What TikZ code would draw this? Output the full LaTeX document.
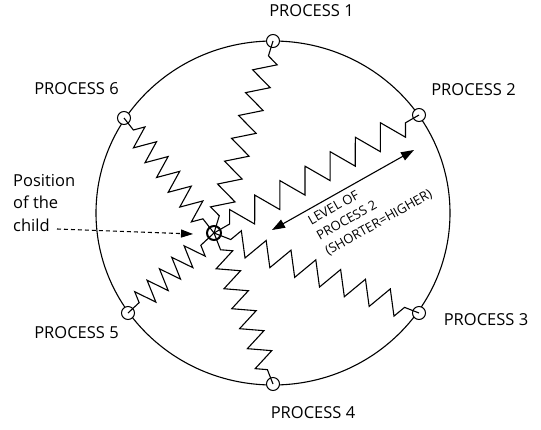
\documentclass[tikz,border=0pt]{standalone}
\usepackage{fontspec}
\setmainfont{Open Sans}
\usetikzlibrary{decorations.pathmorphing,arrows.meta}
\begin{document}
\begin{tikzpicture}[x=1pt,y=-1pt,
  lbl/.style={font=\fontsize{16.5}{22.5}\selectfont, inner sep=0pt},
  small/.style={font=\fontsize{13}{17.5}\selectfont, inner sep=0pt, rotate=29.4, anchor=north west, align=left},
  anc/.style={circle,draw,fill=white,line width=1pt,minimum size=13pt,inner sep=0pt},
  hubst/.style={circle,draw,line width=2pt,minimum size=14pt,inner sep=0pt},
  spring/.style n args={2}{line width=1.1pt, decorate,
    decoration={zigzag, pre length=18pt, post length=15pt, segment length=#1, amplitude=#2}},
  levelarrow/.style={line width=1.1pt, {Triangle[length=13pt,width=9pt]}-{Triangle[length=13pt,width=9pt]}},
  childarrow/.style={line width=1.1pt, dash pattern=on 4pt off 3pt, -{Triangle[length=12pt,width=8pt]}}
]
\useasboundingbox (0,0) rectangle (541,429);
\fill[white] (0,0) rectangle (541,429);

% outer circle
\draw[line width=1.1pt] (273,213) ellipse [x radius=177pt, y radius=172pt];

% anchors
\node[anc] (p1) at (273,41) {};
\node[anc] (p2) at (419,115) {};
\node[anc] (p3) at (419,313) {};
\node[anc] (p4) at (273,384) {};
\node[anc] (p5) at (128,313) {};
\node[anc] (p6) at (124,118) {};

\coordinate (hc) at (214,233);

% springs
\draw[spring={23.9pt}{11pt}] (hc) -- (p1.center);
\draw[spring={29.0pt}{12.5pt}] (hc) -- (p2.center);
\draw[spring={26.65pt}{12pt}] (hc) -- (p3.center);
\draw[spring={21.45pt}{11pt}] (hc) -- (p4.center);
\draw[spring={16.85pt}{11pt}] (hc) -- (p5.center);
\draw[spring={18.8pt}{11pt}] (hc) -- (p6.center);

\node[hubst] (hub) at (hc) {};

% labels
\node[lbl] (l1) at (311.5,11) {PROCESS 1};
\node[lbl] (l2) at (473.5,90) {PROCESS 2};
\node[lbl] (l3) at (486,320) {PROCESS 3};
\node[lbl] (l4) at (313,413) {PROCESS 4};
\node[lbl] (l5) at (76.5,333) {PROCESS 5};
\node[lbl] (l6) at (76.5,89) {PROCESS 6};

% level arrow and text
\coordinate (a1) at (272,230);
\coordinate (a2) at (414,150);
\draw[levelarrow] (a1) -- (a2);
\node[small] (lvl) at (306.4,216.9) {LEVEL OF\\PROCESS 2\\(SHORTER=HIGHER)};

% position of the child
\node[lbl, align=left, anchor=north west] (child) at (13,174) {Position\\of the\\child};
\coordinate (c1) at (57,229);
\coordinate (c2) at (193,234);
\draw[childarrow] (c1) -- (c2);
\end{tikzpicture}
\end{document}
